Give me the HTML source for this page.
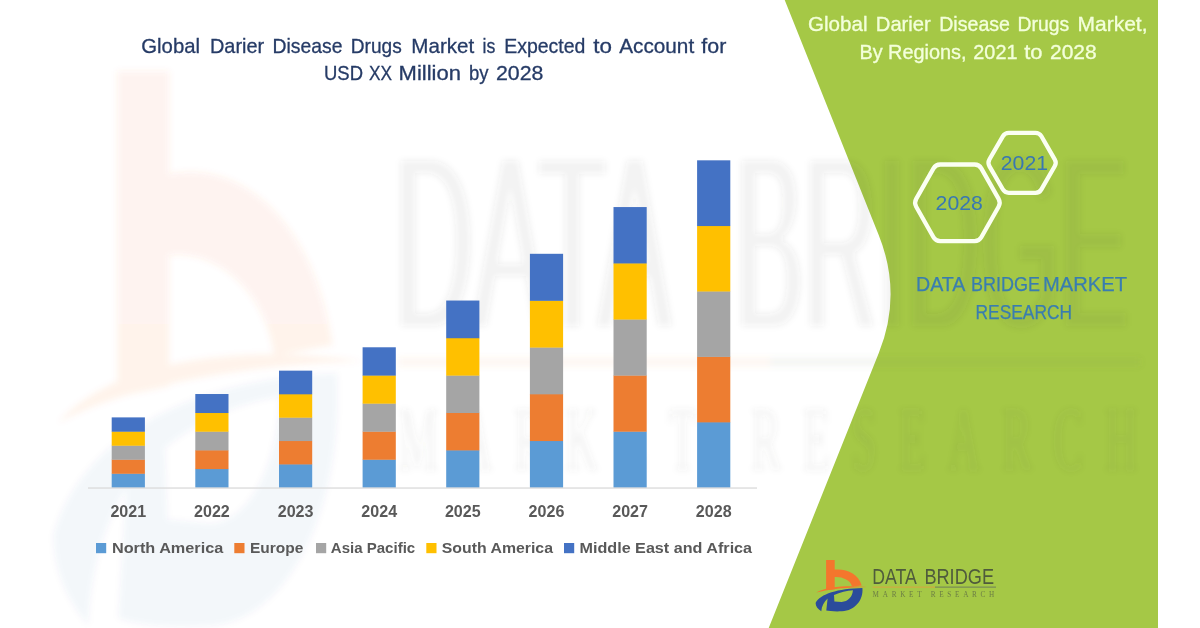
<!DOCTYPE html>
<html lang="en">
<head>
<meta charset="utf-8">
<title>Global Darier Disease Drugs Market</title>
<style>
html,body{margin:0;padding:0;background:#fff;}
body{width:1200px;height:628px;overflow:hidden;}
svg{display:block;}
text{font-family:"Liberation Sans",sans-serif;}
text.sf{font-family:"Liberation Serif",serif;}
.b{font-weight:bold;fill:#595959;}
</style>
</head>
<body>
<svg width="1200" height="628" viewBox="0 0 1200 628">
<defs>
<filter id="thin" x="-5%" y="-10%" width="110%" height="120%"><feMorphology operator="erode" radius="0 3"/><feMorphology operator="dilate" radius="2 0"/></filter>
<filter id="soft" x="-5%" y="-5%" width="110%" height="110%"><feGaussianBlur stdDeviation="3.4"/></filter>
<g id="lgO">
<path fill="#F4762D" d="M18.1,6.1 H26.7 V15.6 C38,14.3 50.5,19.5 53.7,31.4 L44,32.4 C42.5,26 34,22.6 26.7,23.1 V35.2 L18.1,36.2 Z"/>
<path fill="#F4762D" d="M8.3,38.6 C18,32.5 40,31.3 58.8,32.9 C40,33.2 20,35 8.3,38.6 Z"/>
</g>
<g id="lgB">
<path fill="#2B4C9B" fill-rule="evenodd" d="M7.6,48.9 C12,40 30,34.5 54.4,34 C55.6,46 47,56.5 34,57.3 C27,57.6 21,57.2 18.3,56.6 L19.6,44.6 C16,48 13.7,52 13.3,57.3 C10,55 7.6,52.5 7.6,48.9 Z M26,40.9 C32,38.2 39,36.6 44.9,36.2 C44.6,42.5 40,47.6 33.6,47.9 L26.4,47.5 Z"/>
</g>
<g id="lgT">
<text x="64.2" y="30.1" font-size="22" fill="#4F5B3C" textLength="44.6" lengthAdjust="spacingAndGlyphs">DATA</text>
<text x="116.4" y="30.1" font-size="22" fill="#4F5B3C" textLength="69.6" lengthAdjust="spacingAndGlyphs">BRIDGE</text>
</g>
<g id="lgU">
<rect x="64.6" y="32.6" width="62.4" height="1" fill="#D9A441"/>
<rect x="127" y="32.6" width="61" height="1" fill="#6F7F5A"/>
<text class="sf" x="64.6" y="43.2" font-size="7.2" fill="#6C7D45" textLength="121.7" lengthAdjust="spacing">MARKET RESEARCH</text>
</g>
</defs>
<rect width="1200" height="628" fill="#ffffff"/>

<!-- green panel -->
<path fill="#A5C846" d="M784.7,0 L878.6,234.7 Q902.5,294 878.8,353 L768.7,628 H1158 V0 Z"/>

<!-- watermark -->
<g filter="url(#soft)">
<g transform="matrix(6.05,0,0,10.83,7.7,5)"><use href="#lgO" opacity="0.078"/><use href="#lgB" opacity="0.048"/></g>
<g filter="url(#thin)" opacity="0.068" fill="#4A4F48" font-size="100">
<text transform="translate(394,329) scale(1,2.48)" textLength="277" lengthAdjust="spacingAndGlyphs">DATA</text>
<text transform="translate(735.5,329) scale(1,2.48)" textLength="392.5" lengthAdjust="spacingAndGlyphs">BRIDGE</text>
</g>
<g opacity="0.075">
<rect x="398" y="358" width="372" height="8" fill="#E08A3C"/>
<rect x="770" y="358" width="370" height="8" fill="#6F7F5A"/>
<text class="sf" transform="translate(399,470) scale(1,2.11)" font-size="43.6" fill="#55584F" textLength="738" lengthAdjust="spacing">MARKET RESEARCH</text>
</g>
</g>

<!-- title -->
<g fill="#263B66" stroke="#263B66" stroke-width="0.3" font-size="20.6">
<text y="52.8"><tspan x="141.3" textLength="58.7" lengthAdjust="spacingAndGlyphs">Global</tspan> <tspan x="210.0" textLength="54.2" lengthAdjust="spacingAndGlyphs">Darier</tspan> <tspan x="272.5" textLength="70.0" lengthAdjust="spacingAndGlyphs">Disease</tspan> <tspan x="350.8" textLength="50.9" lengthAdjust="spacingAndGlyphs">Drugs</tspan> <tspan x="411.3" textLength="62.9" lengthAdjust="spacingAndGlyphs">Market</tspan> <tspan x="482.6" textLength="12.8" lengthAdjust="spacingAndGlyphs">is</tspan> <tspan x="504.2" textLength="81.2" lengthAdjust="spacingAndGlyphs">Expected</tspan> <tspan x="593.3" textLength="18.7" lengthAdjust="spacingAndGlyphs">to</tspan> <tspan x="619.2" textLength="75.0" lengthAdjust="spacingAndGlyphs">Account</tspan> <tspan x="701.3" textLength="25.0" lengthAdjust="spacingAndGlyphs">for</tspan></text>
<text y="80.4"><tspan x="324.0" textLength="39.0" lengthAdjust="spacingAndGlyphs">USD</tspan> <tspan x="369.0" textLength="23.0" lengthAdjust="spacingAndGlyphs">XX</tspan> <tspan x="398.6" textLength="62.4" lengthAdjust="spacingAndGlyphs">Million</tspan> <tspan x="469.0" textLength="19.6" lengthAdjust="spacingAndGlyphs">by</tspan> <tspan x="496.0" textLength="47.4" lengthAdjust="spacingAndGlyphs">2028</tspan></text>
</g>

<!-- chart -->
<rect x="111.7" y="473.48" width="33.2" height="14.32" fill="#5B9BD5"/>
<rect x="111.7" y="459.46" width="33.2" height="14.32" fill="#ED7D31"/>
<rect x="111.7" y="445.43" width="33.2" height="14.32" fill="#A5A5A5"/>
<rect x="111.7" y="431.41" width="33.2" height="14.32" fill="#FFC000"/>
<rect x="111.7" y="417.39" width="33.2" height="14.32" fill="#4472C4"/>
<rect x="195.3" y="468.80" width="33.2" height="19.00" fill="#5B9BD5"/>
<rect x="195.3" y="450.11" width="33.2" height="19.00" fill="#ED7D31"/>
<rect x="195.3" y="431.41" width="33.2" height="19.00" fill="#A5A5A5"/>
<rect x="195.3" y="412.72" width="33.2" height="19.00" fill="#FFC000"/>
<rect x="195.3" y="394.02" width="33.2" height="19.00" fill="#4472C4"/>
<rect x="279.0" y="464.13" width="33.2" height="23.67" fill="#5B9BD5"/>
<rect x="279.0" y="440.76" width="33.2" height="23.67" fill="#ED7D31"/>
<rect x="279.0" y="417.39" width="33.2" height="23.67" fill="#A5A5A5"/>
<rect x="279.0" y="394.02" width="33.2" height="23.67" fill="#FFC000"/>
<rect x="279.0" y="370.65" width="33.2" height="23.67" fill="#4472C4"/>
<rect x="362.6" y="459.46" width="33.2" height="28.34" fill="#5B9BD5"/>
<rect x="362.6" y="431.41" width="33.2" height="28.34" fill="#ED7D31"/>
<rect x="362.6" y="403.37" width="33.2" height="28.34" fill="#A5A5A5"/>
<rect x="362.6" y="375.32" width="33.2" height="28.34" fill="#FFC000"/>
<rect x="362.6" y="347.28" width="33.2" height="28.34" fill="#4472C4"/>
<rect x="446.2" y="450.11" width="33.2" height="37.69" fill="#5B9BD5"/>
<rect x="446.2" y="412.72" width="33.2" height="37.69" fill="#ED7D31"/>
<rect x="446.2" y="375.32" width="33.2" height="37.69" fill="#A5A5A5"/>
<rect x="446.2" y="337.93" width="33.2" height="37.69" fill="#FFC000"/>
<rect x="446.2" y="300.54" width="33.2" height="37.69" fill="#4472C4"/>
<rect x="529.9" y="440.76" width="33.2" height="47.04" fill="#5B9BD5"/>
<rect x="529.9" y="394.02" width="33.2" height="47.04" fill="#ED7D31"/>
<rect x="529.9" y="347.28" width="33.2" height="47.04" fill="#A5A5A5"/>
<rect x="529.9" y="300.54" width="33.2" height="47.04" fill="#FFC000"/>
<rect x="529.9" y="253.80" width="33.2" height="47.04" fill="#4472C4"/>
<rect x="613.5" y="431.41" width="33.2" height="56.39" fill="#5B9BD5"/>
<rect x="613.5" y="375.32" width="33.2" height="56.39" fill="#ED7D31"/>
<rect x="613.5" y="319.24" width="33.2" height="56.39" fill="#A5A5A5"/>
<rect x="613.5" y="263.15" width="33.2" height="56.39" fill="#FFC000"/>
<rect x="613.5" y="207.06" width="33.2" height="56.39" fill="#4472C4"/>
<rect x="697.1" y="422.06" width="33.2" height="65.74" fill="#5B9BD5"/>
<rect x="697.1" y="356.63" width="33.2" height="65.74" fill="#ED7D31"/>
<rect x="697.1" y="291.19" width="33.2" height="65.74" fill="#A5A5A5"/>
<rect x="697.1" y="225.76" width="33.2" height="65.74" fill="#FFC000"/>
<rect x="697.1" y="160.32" width="33.2" height="65.74" fill="#4472C4"/>
<rect x="88" y="487.4" width="669" height="1.3" fill="#DADADA"/>
<g class="b" font-size="15.6">
<text x="110.4" y="517.4" textLength="35.8" lengthAdjust="spacingAndGlyphs">2021</text>
<text x="194.0" y="517.4" textLength="35.8" lengthAdjust="spacingAndGlyphs">2022</text>
<text x="277.7" y="517.4" textLength="35.8" lengthAdjust="spacingAndGlyphs">2023</text>
<text x="361.3" y="517.4" textLength="35.8" lengthAdjust="spacingAndGlyphs">2024</text>
<text x="444.9" y="517.4" textLength="35.8" lengthAdjust="spacingAndGlyphs">2025</text>
<text x="528.6" y="517.4" textLength="35.8" lengthAdjust="spacingAndGlyphs">2026</text>
<text x="612.2" y="517.4" textLength="35.8" lengthAdjust="spacingAndGlyphs">2027</text>
<text x="695.8" y="517.4" textLength="35.8" lengthAdjust="spacingAndGlyphs">2028</text>
</g>
<g class="b" font-size="15.2">
<rect x="96.0" y="543" width="10.2" height="10.2" fill="#5B9BD5"/>
<text x="111.9" y="552.6" textLength="111.4" lengthAdjust="spacingAndGlyphs">North America</text>
<rect x="234.3" y="543" width="10.2" height="10.2" fill="#ED7D31"/>
<text x="250.0" y="552.6" textLength="53.3" lengthAdjust="spacingAndGlyphs">Europe</text>
<rect x="316.0" y="543" width="10.2" height="10.2" fill="#A5A5A5"/>
<text x="330.8" y="552.6" textLength="84.4" lengthAdjust="spacingAndGlyphs">Asia Pacific</text>
<rect x="426.3" y="543" width="10.2" height="10.2" fill="#FFC000"/>
<text x="441.8" y="552.6" textLength="111.2" lengthAdjust="spacingAndGlyphs">South America</text>
<rect x="564.0" y="543" width="10.2" height="10.2" fill="#4472C4"/>
<text x="579.5" y="552.6" textLength="172.6" lengthAdjust="spacingAndGlyphs">Middle East and Africa</text>
</g>

<!-- right panel text -->
<g fill="#F3FFDA" stroke="#F3FFDA" stroke-width="0.35" font-size="20.8">
<text y="31.4"><tspan x="808.0" textLength="59.5" lengthAdjust="spacingAndGlyphs">Global</tspan> <tspan x="875.8" textLength="55.0" lengthAdjust="spacingAndGlyphs">Darier</tspan> <tspan x="939.2" textLength="70.8" lengthAdjust="spacingAndGlyphs">Disease</tspan> <tspan x="1017.5" textLength="51.7" lengthAdjust="spacingAndGlyphs">Drugs</tspan> <tspan x="1077.5" textLength="70.0" lengthAdjust="spacingAndGlyphs">Market,</tspan></text>
<text y="58.9"><tspan x="859.6" textLength="23.2" lengthAdjust="spacingAndGlyphs">By</tspan> <tspan x="888.0" textLength="78.6" lengthAdjust="spacingAndGlyphs">Regions,</tspan> <tspan x="973.3" textLength="44.2" lengthAdjust="spacingAndGlyphs">2021</tspan> <tspan x="1024.2" textLength="18.3" lengthAdjust="spacingAndGlyphs">to</tspan> <tspan x="1050.0" textLength="46.7" lengthAdjust="spacingAndGlyphs">2028</tspan></text>
</g>

<!-- hexagons -->
<g fill="none" stroke="#FBFFF2" stroke-width="4.3" stroke-linejoin="round">
<path d="M998.6,198.9 Q1000.8,202.8 998.6,206.7 L981.3,237.2 Q979.1,241.1 974.6,241.1 L940.2,241.1 Q935.7,241.1 933.5,237.2 L916.2,206.7 Q914.0,202.8 916.2,198.9 L933.5,168.4 Q935.7,164.5 940.2,164.5 L974.6,164.5 Q979.1,164.5 981.3,168.4 Z"/>
<path d="M1054.7,159.3 Q1056.7,162.8 1054.7,166.3 L1041.4,189.3 Q1039.4,192.8 1035.4,192.8 L1008.8,192.8 Q1004.8,192.8 1002.8,189.3 L989.5,166.3 Q987.5,162.8 989.5,159.3 L1002.8,136.3 Q1004.8,132.8 1008.8,132.8 L1035.4,132.8 Q1039.4,132.8 1041.4,136.3 Z"/>
</g>
<g fill="#3877B2" font-size="21">
<text x="935.6" y="210" textLength="47.2" lengthAdjust="spacingAndGlyphs">2028</text>
<text x="1000.8" y="170" textLength="47.2" lengthAdjust="spacingAndGlyphs">2021</text>
</g>
<g fill="#397DB0" stroke="#397DB0" stroke-width="0.25" font-size="20.2">
<text y="291"><tspan x="916.0" textLength="48.4" lengthAdjust="spacingAndGlyphs">DATA</tspan> <tspan x="971.0" textLength="69.0" lengthAdjust="spacingAndGlyphs">BRIDGE</tspan> <tspan x="1043.0" textLength="84.0" lengthAdjust="spacingAndGlyphs">MARKET</tspan></text>
<text y="319"><tspan x="975.6" textLength="96.4" lengthAdjust="spacingAndGlyphs">RESEARCH</tspan></text>
</g>

<!-- logo -->
<g transform="translate(808,554)"><use href="#lgO"/><use href="#lgB"/><use href="#lgT"/><use href="#lgU"/></g>
</svg>
</body>
</html>
